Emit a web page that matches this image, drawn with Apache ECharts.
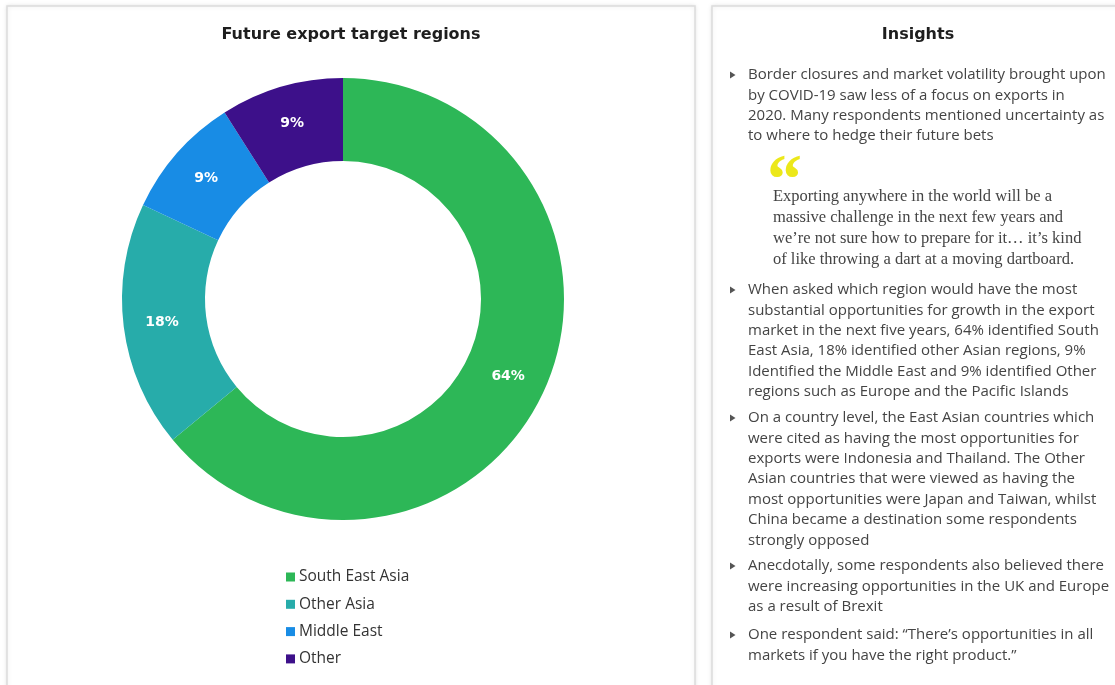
<!DOCTYPE html>
<html>
<head>
<meta charset="utf-8">
<title>Future export target regions</title>
<script src="https://cdn.jsdelivr.net/npm/echarts@6/dist/echarts.min.js"></script>
<style>
  html, body { margin: 0; padding: 0; background: #ffffff; }
  #chart { width: 1115px; height: 685px; }
</style>
</head>
<body>
<div id="chart"></div>
<script>
// Survey shares by region (percent of respondents)
const categories = ['South East Asia', 'Other Asia', 'Middle East', 'Other'];
const shares = [64, 18, 9, 9];
const sliceColors = ['#2DB757', '#27ACAA', '#188CE5', '#3D108A'];

const chartTitle = 'Future export target regions';
const insightsTitle = 'Insights';

const bulletOne = [
  'Border closures and market volatility brought upon',
  'by COVID-19 saw less of a focus on exports in',
  '2020. Many respondents mentioned uncertainty as',
  'to where to hedge their future bets'
];
const quoteLines = [
  'Exporting anywhere in the world will be a',
  'massive challenge in the next few years and',
  'we\u2019re not sure how to prepare for it\u2026 it\u2019s kind',
  'of like throwing a dart at a moving dartboard.'
];
const bulletTwo = [
  'When asked which region would have the most',
  'substantial opportunities for growth in the export',
  'market in the next five years, 64% identified South',
  'East Asia, 18% identified other Asian regions, 9%',
  'Identified the Middle East and 9% identified Other',
  'regions such as Europe and the Pacific Islands'
];
const bulletThree = [
  'On a country level, the East Asian countries which',
  'were cited as having the most opportunities for',
  'exports were Indonesia and Thailand. The Other',
  'Asian countries that were viewed as having the',
  'most opportunities were Japan and Taiwan, whilst',
  'China became a destination some respondents',
  'strongly opposed'
];
const bulletFour = [
  'Anecdotally, some respondents also believed there',
  'were increasing opportunities in the UK and Europe',
  'as a result of Brexit'
];
const bulletFive = [
  'One respondent said: \u201cThere\u2019s opportunities in all',
  'markets if you have the right product.\u201d'
];

const sans = '"Open Sans", "Liberation Sans", Arial, sans-serif';
const heading = '"DejaVu Sans", "Open Sans", sans-serif';
const serif = '"Liberation Serif", "DejaVu Serif", serif';
const bodyColor = '#444444';
const lineGap = 20.4;

const chart = echarts.init(document.getElementById('chart'), null, { renderer: 'canvas' });

const graphics = [
  // left and right cards
  { type: 'rect', z: -5, shape: { x: 7, y: 6, width: 688, height: 700 },
    style: { fill: '#ffffff', stroke: '#dcdcdc', lineWidth: 1.5,
             shadowBlur: 4, shadowColor: 'rgba(0,0,0,0.10)' } },
  { type: 'rect', z: -5, shape: { x: 712, y: 6, width: 420, height: 700 },
    style: { fill: '#ffffff', stroke: '#dcdcdc', lineWidth: 1.5,
             shadowBlur: 4, shadowColor: 'rgba(0,0,0,0.10)' } },
  // card headings
  { type: 'text', style: { text: chartTitle, x: 351, y: 34.5, textAlign: 'center', textVerticalAlign: 'middle',
      font: 'bold 16px ' + heading, fill: '#1e1e1e' } },
  { type: 'text', style: { text: insightsTitle, x: 918, y: 34.5, textAlign: 'center', textVerticalAlign: 'middle',
      font: 'bold 16px ' + heading, fill: '#1e1e1e' } },
  // opening quotation mark
  { type: 'text', style: { text: '\u201c', x: 767, y: 149, textAlign: 'left', textVerticalAlign: 'top',
      font: 'bold 70px ' + serif, fill: '#ece81a' } },
  // quote body
  { type: 'text', style: { text: quoteLines.join('\n'), x: 773, y: 197 - 10.5, textVerticalAlign: 'top',
      font: '16.5px ' + serif, fill: '#444444', lineHeight: 21 } }
];

function addBullet(lines, firstLineY) {
  graphics.push({ type: 'polygon',
    shape: { points: [[730, firstLineY - 3.5], [735.5, firstLineY], [730, firstLineY + 3.5]] },
    style: { fill: '#555555' } });
  graphics.push({ type: 'text', style: {
    text: lines.join('\n'), x: 748, y: firstLineY - lineGap / 2, textVerticalAlign: 'top',
    font: '15px ' + sans, fill: bodyColor, lineHeight: lineGap } });
}
addBullet(bulletOne, 75);
addBullet(bulletTwo, 290);
addBullet(bulletThree, 418);
addBullet(bulletFour, 566);
addBullet(bulletFive, 635);

chart.setOption({
  animation: false,
  color: sliceColors,
  legend: {
    orient: 'vertical',
    left: 286,
    top: 569,
    padding: 0,
    icon: 'rect',
    itemWidth: 9,
    itemHeight: 9,
    itemGap: 11.3,
    data: categories,
    textStyle: { fontFamily: sans, fontSize: 15.5, color: '#333333', padding: [0, 0, 0, -1] }
  },
  graphic: graphics,
  series: [{
    type: 'pie',
    center: [343, 299],
    radius: [138, 221],
    startAngle: 90,
    clockwise: true,
    avoidLabelOverlap: false,
    emphasis: { disabled: true },
    itemStyle: { borderWidth: 0 },
    label: {
      position: 'inside',
      formatter: '{c}%',
      color: '#ffffff',
      fontFamily: heading,
      fontWeight: 'bold',
      fontSize: 14
    },
    labelLine: { show: false },
    data: categories.map((name, i) => ({ name: name, value: shares[i] }))
  }]
});
</script>
</body>
</html>
